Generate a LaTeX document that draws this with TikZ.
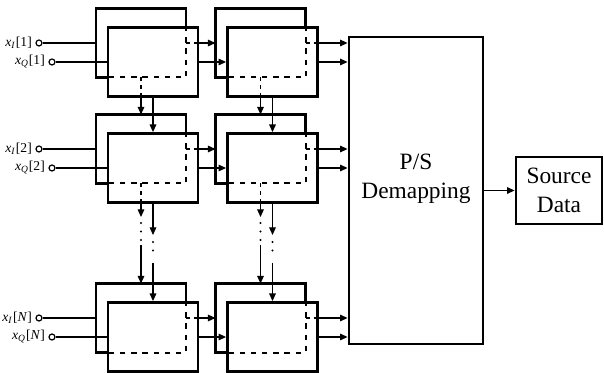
\documentclass[tikz,border=0pt]{standalone}
\usepackage{fontspec}
\setmainfont{Liberation Serif}
\usetikzlibrary{arrows.meta,positioning}

\tikzset{
  back/.style={minimum width=45pt, minimum height=34.5pt, inner sep=0pt, outer sep=0pt},
  front/.style={draw, line width=1.4pt, minimum width=45pt, minimum height=34.5pt, inner sep=0pt},
  box/.style={draw, line width=1.4pt, inner sep=0pt, align=center,
    font=\fontsize{11.7}{14.5}\selectfont},
  edge/.style={line width=1.4pt},
  hidden/.style={line width=1pt, dash pattern=on 2.7pt off 2.9pt},
  hidline/.style={line width=0.6pt, dash pattern=on 2pt off 2pt},
  dotline/.style={line width=1.2pt, line cap=round, dash pattern=on 0pt off 4.25pt},
  port/.style={draw, circle, line width=0.6pt, inner sep=0pt, minimum size=3pt},
  lbl/.style={inner sep=0pt, font=\fontsize{6.8}{8}\selectfont}
}
\newcommand{\xsig}[2]{\textit{x}\textsubscript{\textit{#1}}[#2]}

\begin{document}
\begin{tikzpicture}[x=0.5pt, y=-0.5pt, line width=0.6pt,
    >={Triangle[length=3.8pt,width=3.3pt]}]
    \useasboundingbox (0,0) rectangle (604,373);

    \node[box, minimum width=67pt, minimum height=153.5pt] (ps) at (416,190.5) {};
    \node[align=center, inner sep=0pt, font=\fontsize{11.7}{14.5}\selectfont]
        (pstxt) at (416,179) {P/S\\Demapping};
    \node[box, minimum width=43pt, minimum height=33.5pt] (src) at (559,190.5) {Source\\Data};
    \draw[->] (ps.east) -- (src.west);

    % stacked blocks, inputs and links to the demapper
    \foreach \r/\y/\n in {1/43/1, 2/149/2, 3/318/\textit{N}} {
        \foreach \c/\x in {1/141, 2/260.5} {
            \node[back] (b\r\c) at (\x,\y) {};
            \node[front] (f\r\c) at (\x+12,\y+19) {};
            \draw[edge] (f\r\c.west |- b\r\c.south) -- (b\r\c.south west)
                -- (b\r\c.north west) -- (b\r\c.north east) -- (b\r\c.east |- f\r\c.north);
            \draw[hidden] (b\r\c.east |- f\r\c.north) -- (b\r\c.south east)
                -- (f\r\c.west |- b\r\c.south);
        }
        \node[port] (pi\r) at (39,\y) {};
        \node[port] (pq\r) at (52,\y+19) {};
        \node[lbl, left=1.5pt of pi\r] (li\r) {\xsig{I}{\n}};
        \node[lbl, left=1.5pt of pq\r] (lq\r) {\xsig{Q}{\n}};
        \draw (pi\r) -- (b\r1.west);
        \draw (pq\r) -- (f\r1.west);

        \draw[hidline] (b\r1.east) -- (b\r1.east -| f\r1.east);
        \draw[->] (b\r1.east -| f\r1.east) -- (b\r2.west);
        \draw[->] (f\r1.east) -- (f\r2.west);
        \draw[hidline] (b\r2.east) -- (b\r2.east -| f\r2.east);
        \draw[->] (b\r2.east -| f\r2.east) -- (b\r2.east -| ps.west);
        \draw[->] (f\r2.east) -- (f\r2.east -| ps.west);
    }

    % links down the columns
    \foreach \c in {1,2} {
        \draw[hidline] (b1\c.south) -- (b1\c.south |- f1\c.south);
        \draw[->] (b1\c.south |- f1\c.south) -- (b2\c.north);
        \draw[->] (f1\c.south) -- (f2\c.north);

        \draw[hidline] (b2\c.south) -- (b2\c.south |- f2\c.south);
        \draw[->] (b2\c.south |- f2\c.south) -- (b2\c.south |- 0,217);
        \draw[dotline] (b2\c.south |- 0,223) -- (b2\c.south |- 0,241);
        \draw[->] (b2\c.south |- 0,245) -- (b3\c.north);
        \draw[->] (f2\c.south) -- (f2\c.south |- 0,235);
        \draw[dotline] (f2\c.south |- 0,242) -- (f2\c.south |- 0,259);
        \draw[->] (f2\c.south |- 0,263) -- (f3\c.north);
    }
\end{tikzpicture}
\end{document}
